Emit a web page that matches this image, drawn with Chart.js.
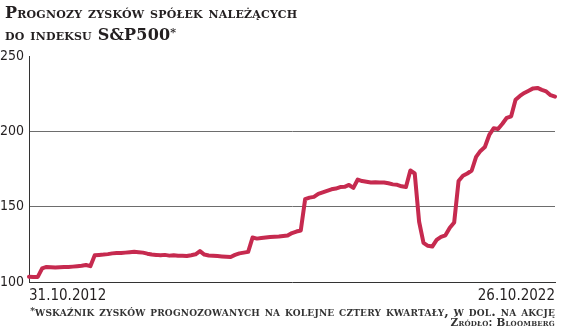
<!DOCTYPE html>
<html>
<head>
<meta charset="utf-8">
<script src="https://cdn.jsdelivr.net/npm/chart.js@4"></script>
<style>
  html, body { margin: 0; padding: 0; background: #fff; }
  #wrap { position: relative; width: 564px; height: 334px; overflow: hidden; }
  canvas { position: absolute; left: 0; top: 0; }
  .title { position: absolute; left: 5px; top: 3px; font-family: "DejaVu Serif", serif; font-weight: bold;
           font-variant: small-caps; font-size: 16px; line-height: 20px; color: #231f20; letter-spacing: 0.2px; white-space: nowrap; }
  .note { position: absolute; right: 9px; top: 306px; font-family: "DejaVu Serif", serif; font-weight: bold;
          font-variant: small-caps; font-size: 13px; line-height: 10px; color: #333; text-align: right; white-space: nowrap; letter-spacing: 0.2px; }
  .note sup { font-size: 9px; vertical-align: 2px; }
  .note .src { font-size: 10.5px; }
</style>
</head>
<body>
<div id="wrap">
  <canvas id="c" width="564" height="334"></canvas>
  <div class="title">Prognozy zysków spółek należących<br>do indeksu S&amp;P500<span style="font-size:11px;vertical-align:4px">*</span></div>
  <div class="note"><sup>*</sup>wskaźnik zysków prognozowanych na kolejne cztery kwartały, w dol. na akcję<br><span class="src">Źródło: Bloomberg</span></div>
</div>
<script>
// Monthly readings, Oct 2012 .. Oct 2022 (USD per share, forward 12m EPS)
const values = [
  103.5, 103.3, 103.4, 109.0, 110.0, 109.8, 109.6, 109.8, 110.0, 109.9,
  110.2, 110.5, 110.8, 111.3, 110.5, 117.8, 118.0, 118.2, 118.5, 119.0,
  119.3, 119.2, 119.5, 119.8, 120.0, 119.8, 119.5, 118.8, 118.2, 118.0,
  117.7, 118.0, 117.5, 117.8, 117.4, 117.5, 117.3, 117.8, 118.4, 120.5,
  118.2, 117.6, 117.4, 117.2, 117.0, 116.8, 116.6, 118.0, 119.0, 119.5,
  120.0, 129.5, 128.8, 129.2, 129.5, 129.8, 130.0, 130.2, 130.5, 130.8,
  132.5, 133.5, 134.2, 155.0, 156.0, 156.5, 158.5, 159.5, 160.5, 161.5,
  162.0, 163.0, 163.2, 164.4, 162.5, 168.0, 167.0, 166.5, 166.0, 166.2,
  166.0, 166.0, 165.5, 164.8, 164.5, 163.5, 163.0, 174.0, 172.0, 140.0,
  126.0, 124.0, 123.5, 128.0, 130.0, 131.0, 136.0, 139.5, 167.0, 170.5,
  172.0, 174.0, 183.0, 187.0, 189.6, 197.6, 202.0, 201.5, 205.0, 209.0,
  210.0, 221.0, 223.5, 225.5, 227.0, 228.5, 228.8, 227.5, 226.5, 224.0,
  223.0
];
const tickLabels = ["31.10.2012", "26.10.2022"];
const yTicks = [100, 150, 200, 250];
const gridValues = [150, 200];

const categories = [];
for (let i = 0; i < values.length; i++) {
  const m = (9 + i) % 12 + 1, y = 2012 + Math.floor((9 + i) / 12);
  categories.push((m < 10 ? "0" : "") + m + "." + y);
}
categories[0] = tickLabels[0];
categories[categories.length - 1] = tickLabels[1];

new Chart(document.getElementById("c"), {
  type: "line",
  data: {
    labels: categories,
    datasets: [{
      data: values,
      borderColor: "#c62a4f",
      borderWidth: 4,
      pointRadius: 0,
      tension: 0,
      borderJoinStyle: "round",
      borderCapStyle: "round",
      fill: false
    }]
  },
  options: {
    responsive: false,
    animation: false,
    events: [],
    layout: { padding: { top: 56, right: 9, left: 0, bottom: 0 } },
    plugins: { legend: { display: false }, tooltip: { enabled: false }, title: { display: false } },
    scales: {
      x: {
        type: "category",
        offset: false,
        grid: { display: false, drawTicks: false },
        border: { display: true, color: "#333", width: 1 },
        ticks: {
          autoSkip: false, maxRotation: 0, minRotation: 0, align: "inner", padding: 5,
          color: "#231f20",
          font: { family: "'DejaVu Sans Condensed', 'DejaVu Sans'", size: 15 },
          callback: function (v, i, t) {
            if (i === 0) return tickLabels[0];
            if (i === t.length - 1) return tickLabels[1];
            return "";
          }
        },
        afterFit: function (s) { s.height = 52; }
      },
      y: {
        min: 100, max: 250,
        afterBuildTicks: function (s) { s.ticks = yTicks.map(v => ({ value: v })); },
        grid: {
          drawTicks: false,
          color: function (ctx) { return gridValues.includes(ctx.tick && ctx.tick.value) ? "#6d6d6d" : "rgba(0,0,0,0)"; },
          lineWidth: 1
        },
        border: { display: true, color: "#333", width: 1 },
        ticks: {
          padding: 5, color: "#231f20",
          font: { family: "'DejaVu Sans Condensed', 'DejaVu Sans'", size: 14 }
        },
        afterFit: function (s) { s.width = 29; }
      }
    }
  }
});
</script>
</body>
</html>
